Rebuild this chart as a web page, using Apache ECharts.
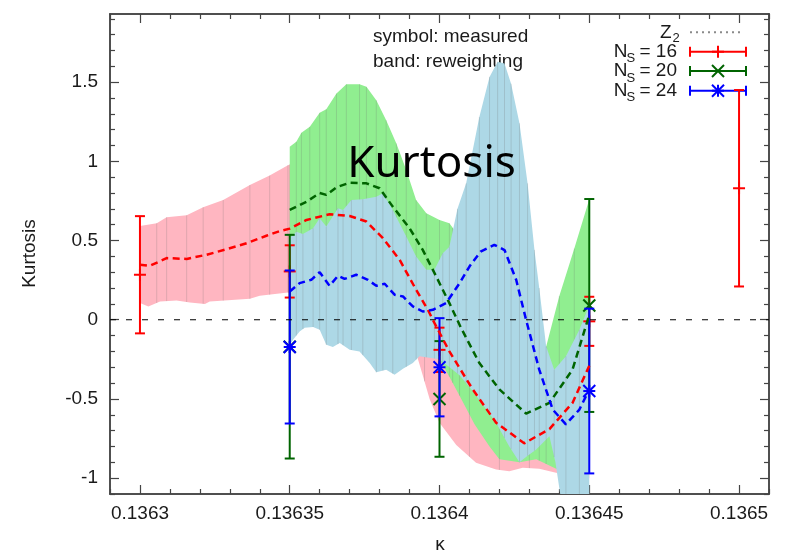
<!DOCTYPE html>
<html>
<head>
<meta charset="utf-8">
<script src="https://cdn.jsdelivr.net/npm/echarts@6/dist/echarts.min.js"></script>
<style>html,body{margin:0;padding:0;background:#fff}#c{width:786px;height:551px}</style>
</head>
<body>
<div id="c"></div>
<script>
// ---------- axis ranges and ticks ----------
const X_MIN = 0.13629, X_MAX = 0.13651;
const Y_MIN = -1.1, Y_MAX = 1.93;
const xTicks = [0.1363, 0.13635, 0.1364, 0.13645, 0.1365];
const yTicks = [-1, -0.5, 0, 0.5, 1, 1.5];
const xMinorTicks = [0.13629,0.13631,0.13632,0.13633,0.13634,0.13636,0.13637,0.13638,0.13639,0.13641,0.13642,0.13643,0.13644,0.13646,0.13647,0.13648,0.13649,0.13651];
const yMinorTicks = [-1.1,-0.9,-0.8,-0.7,-0.6,-0.4,-0.3,-0.2,-0.1,0.1,0.2,0.3,0.4,0.6,0.7,0.8,0.9,1.1,1.2,1.3,1.4,1.6,1.7,1.8,1.9];

// ---------- measured points (symbol) ----------
const n16K = [0.1363, 0.13635, 0.1364, 0.13645, 0.1365];
const n16V = [0.284, 0.305, -0.19, -0.01, 0.83];
const n16E = [0.37, 0.165, 0.14, 0.155, 0.62];
const n20K = [0.13635, 0.1364, 0.13645];
const n20V = [-0.17, -0.50, 0.09];
const n20E = [0.706, 0.365, 0.672];
const n24K = [0.13635, 0.1364, 0.13645];
const n24V = [-0.172, -0.30, -0.45];
const n24E = [0.483, 0.31, 0.52];

// ---------- reweighting central curves ----------
const rw16K = [0.1363,0.1363033,0.1363089,0.1363156,0.1363222,0.1363289,0.1363356,0.1363422,0.1363467,0.13635,0.1363556,0.1363633,0.13637,0.1363756,0.1363811,0.1363867,0.1363922,0.1363961,0.1363983,0.1364033,0.1364111,0.1364189,0.1364283,0.1364367,0.1364444,0.13645];
const rw16V = [0.347,0.34,0.389,0.384,0.41,0.445,0.483,0.53,0.56,0.575,0.63,0.666,0.655,0.62,0.515,0.378,0.189,0.063,-0.02,-0.2,-0.44,-0.65,-0.78,-0.69,-0.525,-0.29];
const rw20K = [0.13635,0.1363556,0.13636,0.1363622,0.1363656,0.13637,0.1363756,0.13638,0.1363844,0.13639,0.1363944,0.1363989,0.1364033,0.1364072,0.1364133,0.13642,0.1364289,0.1364367,0.1364444,0.13645];
const rw20V = [0.693,0.745,0.80,0.788,0.836,0.865,0.861,0.83,0.714,0.578,0.441,0.273,0.105,-0.052,-0.273,-0.44,-0.592,-0.525,-0.315,0.03];
const rw24K = [0.13635,0.1363533,0.1363572,0.13636,0.1363633,0.1363661,0.1363683,0.1363722,0.1363761,0.1363789,0.1363817,0.136385,0.1363878,0.1363911,0.1363944,0.1363978,0.1364022,0.1364067,0.13641,0.1364137,0.1364183,0.1364217,0.1364256,0.1364289,0.1364333,0.1364378,0.1364422,0.1364467,0.13645];
const rw24V = [0.178,0.231,0.252,0.30,0.214,0.277,0.258,0.284,0.252,0.214,0.227,0.158,0.147,0.084,0.052,0.063,0.105,0.231,0.336,0.43,0.473,0.44,0.252,0.0,-0.315,-0.567,-0.66,-0.567,-0.44];

// ---------- reweighting bands ----------
const b16UpK = [0.1363,0.1363056,0.1363089,0.1363156,0.1363211,0.1363278,0.1363367,0.1363433,0.1363494,0.13635,0.13637,0.13638,0.13639,0.136395,0.1364,0.13641,0.13642,0.13643,0.13644,0.13645];
const b16UpV = [0.592,0.609,0.647,0.66,0.71,0.756,0.85,0.91,0.975,0.98,1.0,0.9,0.65,0.4,0.1,-0.15,-0.35,-0.4,-0.5,-0.3];
const b16LoK = [0.1363,0.1363028,0.1363067,0.1363122,0.1363167,0.1363217,0.1363233,0.1363367,0.13634,0.1363494,0.13636,0.13638,0.13639,0.1363922,0.1363944,0.1363967,0.1364,0.1364056,0.1364122,0.1364189,0.1364233,0.1364278,0.1364333,0.1364389,0.13645];
const b16LoV = [0.105,0.084,0.115,0.122,0.109,0.100,0.115,0.132,0.151,0.172,0.1,-0.05,-0.15,-0.21,-0.35,-0.5,-0.65,-0.79,-0.903,-0.945,-0.956,-0.934,-0.94,-0.966,-1.0];
const b20UpK = [0.13635,0.1363522,0.1363539,0.1363567,0.13636,0.1363622,0.1363656,0.1363689,0.1363733,0.1363756,0.1363789,0.1363822,0.1363856,0.1363889,0.1363922,0.1363956,0.1364,0.1364033,0.1364044,0.1364067,0.13641,0.13642,0.13643,0.1364333,0.1364356,0.13644,0.136445,0.13645];
const b20UpV = [1.092,1.124,1.18,1.218,1.306,1.328,1.428,1.487,1.487,1.47,1.386,1.26,1.113,0.945,0.756,0.672,0.63,0.609,0.58,0.5,0.35,0.0,-0.2,-0.3,-0.17,0.15,0.45,0.76];
const b20LoK = [0.13635,0.13637,0.13639,0.1364,0.1364033,0.1364067,0.1364117,0.1364167,0.13642,0.1364267,0.1364323,0.1364377,0.13644,0.136445,0.13645];
const b20LoV = [0.3,0.3,0.0,-0.25,-0.36,-0.48,-0.66,-0.8,-0.88,-0.9,-0.88,-0.93,-0.95,-0.9,-0.7];
const b24UpK = [0.13635,0.1363522,0.1363544,0.1363578,0.13636,0.1363622,0.1363661,0.1363678,0.1363706,0.1363744,0.1363789,0.1363811,0.1363844,0.1363889,0.1363922,0.1363956,0.1363983,0.1364011,0.1364033,0.136406,0.1364089,0.1364133,0.1364167,0.1364194,0.1364217,0.1364239,0.1364267,0.1364294,0.1364317,0.1364333,0.1364356,0.1364383,0.1364422,0.1364467,0.13645];
const b24UpV = [0.515,0.556,0.542,0.578,0.641,0.588,0.704,0.693,0.756,0.76,0.777,0.798,0.693,0.525,0.399,0.315,0.315,0.42,0.46,0.7,0.861,1.28,1.533,1.628,1.617,1.49,1.24,0.861,0.441,0.2,-0.168,-0.315,-0.231,-0.063,0.09];
const b24LoK = [0.13635,0.1363511,0.1363533,0.136355,0.1363578,0.13636,0.1363622,0.1363644,0.1363667,0.13637,0.1363733,0.1363767,0.1363789,0.1363822,0.136385,0.1363878,0.1363911,0.1363933,0.1364,0.1364067,0.1364111,0.1364189,0.1364233,0.1364267,0.1364293,0.1364322,0.1364367,0.1364387,0.1364407,0.136445,0.13645];
const b24LoV = [-0.16,-0.126,-0.074,-0.05,-0.046,-0.063,-0.158,-0.172,-0.147,-0.189,-0.2,-0.273,-0.332,-0.315,-0.347,-0.31,-0.273,-0.231,-0.25,-0.35,-0.45,-0.65,-0.8,-0.9,-0.86,-0.82,-0.735,-0.9,-1.15,-1.3,-1.3];

const zeroLevel = 0;

// ---------- styles ----------
const RED = '#ff0000', GREEN = '#006400', BLUE = '#0000ff';
const AX = '#444';
const FONT = '"Liberation Sans", Arial, sans-serif';

const chart = echarts.init(document.getElementById('c'), null, {renderer: 'canvas'});

function xAxisCfg(pos, values, len, withLabels) {
  return {
    type: 'value', position: pos, min: X_MIN, max: X_MAX,
    axisLine: {show: true, onZero: false, lineStyle: {color: AX, width: 1.5}},
    axisTick: {show: true, inside: true, length: len, customValues: values, lineStyle: {color: AX, width: 1.2}},
    axisLabel: withLabels ? {show: true, customValues: values, margin: 10, color: '#1a1a1a', fontSize: 19, fontFamily: FONT,
      formatter: v => String(parseFloat((+v).toFixed(5)))} : {show: false},
    splitLine: {show: false}
  };
}
function yAxisCfg(pos, values, len, withLabels) {
  return {
    type: 'value', position: pos, min: Y_MIN, max: Y_MAX,
    axisLine: {show: true, onZero: false, lineStyle: {color: AX, width: 1.5}},
    axisTick: {show: true, inside: true, length: len, customValues: values, lineStyle: {color: AX, width: 1.2}},
    axisLabel: withLabels ? {show: true, customValues: values, margin: 12, color: '#1a1a1a', fontSize: 19, fontFamily: FONT,
      formatter: v => String(parseFloat((+v).toFixed(2)))} : {show: false},
    splitLine: {show: false}
  };
}

function interp(K, V, k) {
  if (k <= K[0]) return V[0];
  for (let i = 1; i < K.length; i++) {
    if (k <= K[i]) { const t = (k - K[i - 1]) / (K[i] - K[i - 1]); return V[i - 1] + t * (V[i] - V[i - 1]); }
  }
  return V[V.length - 1];
}

function bandSeries(upK, upV, loK, loV, color) {
  return {
    type: 'custom', clip: true, silent: true,
    data: upK.map((k, i) => [k, upV[i]]), encode: {x: 0, y: 1},
    renderItem: (params, api) => {
      if (params.dataIndex !== 0) return null;
      const pts = [];
      for (let i = 0; i < upK.length; i++) pts.push(api.coord([upK[i], upV[i]]));
      for (let i = loK.length - 1; i >= 0; i--) pts.push(api.coord([loK[i], loV[i]]));
      const children = [{type: 'polygon', shape: {points: pts}, style: {fill: color, stroke: null}}];
      // faint vertical sample lines (as in the original rendering)
      for (let i = 1; i < upK.length - 1; i++) {
        const a = api.coord([upK[i], upV[i]]);
        const b = api.coord([upK[i], interp(loK, loV, upK[i])]);
        children.push({type: 'line', shape: {x1: a[0], y1: a[1], x2: b[0], y2: b[1]},
          style: {stroke: 'rgba(110,110,110,0.22)', lineWidth: 1}});
      }
      return {type: 'group', children: children};
    }
  };
}

function lineSeries(K, V, color) {
  return {
    type: 'line', data: K.map((k, i) => [k, V[i]]), showSymbol: false, symbol: 'none', silent: true,
    lineStyle: {color: color, width: 2.5, type: [7, 4.5]}, clip: true
  };
}

function markerShapes(cx, cy, marker, color) {
  const st = {stroke: color, lineWidth: 2};
  const s = 6;
  const out = [];
  if (marker === 'plus' || marker === 'star') {
    out.push({type: 'line', shape: {x1: cx - s, y1: cy, x2: cx + s, y2: cy}, style: st});
    out.push({type: 'line', shape: {x1: cx, y1: cy - s, x2: cx, y2: cy + s}, style: st});
  }
  if (marker === 'cross' || marker === 'star') {
    out.push({type: 'line', shape: {x1: cx - s, y1: cy - s, x2: cx + s, y2: cy + s}, style: st});
    out.push({type: 'line', shape: {x1: cx - s, y1: cy + s, x2: cx + s, y2: cy - s}, style: st});
  }
  return out;
}

function errSeries(K, V, E, color, marker) {
  return {
    type: 'custom', clip: true, silent: true,
    data: K.map((k, i) => [k, V[i], E[i]]), encode: {x: 0, y: 1},
    renderItem: (params, api) => {
      const x = api.value(0), y = api.value(1), d = api.value(2);
      const c = api.coord([x, y]), t = api.coord([x, y + d]), b = api.coord([x, y - d]);
      const st = {stroke: color, lineWidth: 2};
      const h = 5;
      const ch = [
        {type: 'line', shape: {x1: c[0], y1: t[1], x2: c[0], y2: b[1]}, style: st},
        {type: 'line', shape: {x1: c[0] - h, y1: t[1], x2: c[0] + h, y2: t[1]}, style: st},
        {type: 'line', shape: {x1: c[0] - h, y1: b[1], x2: c[0] + h, y2: b[1]}, style: st}
      ].concat(markerShapes(c[0], c[1], marker, color));
      return {type: 'group', children: ch};
    }
  };
}

// ---------- legend & texts (graphic) ----------
const legRows = [32.3, 51.7, 71, 90.7];
const legX1 = 690, legX2 = 746, legMid = 718;
const graphics = [];
function txt(x, y, text, size, align, extra) {
  return Object.assign({type: 'text', x: x, y: y, silent: true,
    style: {text: text, fill: '#1a1a1a', font: size + 'px ' + FONT, align: align, verticalAlign: 'middle',
      textAlign: align, textVerticalAlign: 'middle'}}, extra || {});
}
graphics.push(txt(373, 36.5, 'symbol: measured', 19, 'left'));
graphics.push(txt(373, 61.5, 'band: reweighting', 19, 'left'));
// Z2 row
graphics.push(txt(671.5, legRows[0], 'Z', 19, 'right'));
graphics.push(txt(672.5, legRows[0] + 6.5, '2', 13, 'left'));
graphics.push({type: 'line', silent: true, shape: {x1: legX1, y1: legRows[0], x2: 742, y2: legRows[0]},
  style: {stroke: '#8a8a8a', lineWidth: 2, lineDash: [2, 4]}});
const legDefs = [['= 16', RED, 'plus'], ['= 20', GREEN, 'cross'], ['= 24', BLUE, 'star']];
legDefs.forEach((d, i) => {
  const y = legRows[i + 1];
  graphics.push(txt(627.5, y, 'N', 19, 'right'));
  graphics.push(txt(626.5, y + 7, 'S', 13, 'left'));
  graphics.push(txt(677, y, d[0], 19, 'right'));
  const st = {stroke: d[1], lineWidth: 2};
  graphics.push({type: 'line', silent: true, shape: {x1: legX1, y1: y, x2: legX2, y2: y}, style: st});
  graphics.push({type: 'line', silent: true, shape: {x1: legX1, y1: y - 5, x2: legX1, y2: y + 5}, style: st});
  graphics.push({type: 'line', silent: true, shape: {x1: legX2, y1: y - 5, x2: legX2, y2: y + 5}, style: st});
  markerShapes(legMid, y, d[2], d[1]).forEach(m => { m.silent = true; graphics.push(m); });
});
// title and axis names
graphics.push({type: 'text', x: 431.5, y: 164, silent: true, z: 100,
  style: {text: 'Kurtosis', fill: '#000', font: '44px "Noto Sans", sans-serif', align: 'center', verticalAlign: 'middle', textAlign: 'center', textVerticalAlign: 'middle'}});
graphics.push(txt(30, 253.5, 'Kurtosis', 19, 'center', {rotation: Math.PI / 2}));
graphics.push(txt(440, 545, 'κ', 19, 'center'));

const option = {
  animation: false,
  backgroundColor: '#fff',
  grid: {left: 110, top: 14, right: 17, bottom: 57, containLabel: false},
  xAxis: [
    xAxisCfg('bottom', xTicks, 9, true),
    xAxisCfg('bottom', xMinorTicks, 5, false),
    xAxisCfg('top', xTicks, 9, false),
    xAxisCfg('top', xMinorTicks, 5, false)
  ],
  yAxis: [
    yAxisCfg('left', yTicks, 9, true),
    yAxisCfg('left', yMinorTicks, 5, false),
    yAxisCfg('right', yTicks, 9, false),
    yAxisCfg('right', yMinorTicks, 5, false)
  ],
  series: [
    bandSeries(b16UpK, b16UpV, b16LoK, b16LoV, '#ffb6c1'),
    bandSeries(b20UpK, b20UpV, b20LoK, b20LoV, '#90ee90'),
    bandSeries(b24UpK, b24UpV, b24LoK, b24LoV, '#add8e6'),
    {type: 'line', data: [[X_MIN, zeroLevel], [X_MAX, zeroLevel]], symbol: 'none', silent: true,
      lineStyle: {color: '#000', width: 1.2, type: [6, 10]}},
    lineSeries(rw16K, rw16V, RED),
    lineSeries(rw20K, rw20V, GREEN),
    lineSeries(rw24K, rw24V, BLUE),
    errSeries(n16K, n16V, n16E, RED, 'plus'),
    errSeries(n20K, n20V, n20E, GREEN, 'cross'),
    errSeries(n24K, n24V, n24E, BLUE, 'star')
  ],
  graphic: graphics
};
chart.setOption(option);
</script>
</body>
</html>
